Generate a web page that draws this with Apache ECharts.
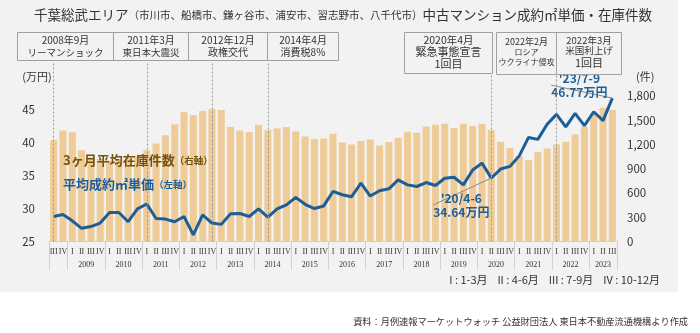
<!DOCTYPE html>
<html><head><meta charset="utf-8">
<script src="https://cdn.jsdelivr.net/npm/echarts@6/dist/echarts.min.js"></script>
<style>html,body{margin:0;padding:0;background:#fff}#c{width:700px;height:333px}</style>
</head><body><div id="c"></div>
<script>
// ---- data ----
const years = [2008,2009,2010,2011,2012,2013,2014,2015,2016,2017,2018,2019,2020,2021,2022,2023];
const quarterNames = ['I','II','III','IV'];
const firstQuarter = 2;   // 2008 III
const lastQuarter = 2;    // 2023 III
// 3ヶ月平均在庫件数 (件, right axis)
const inventory = [1253,1374,1353,1129,1040,1020,1000,1010,1030,1060,
  1129,1212,1315,1448,1603,1562,1615,1640,1626,1417,
  1372,1353,1440,1378,1398,1415,1361,1299,1266,1274,
  1332,1225,1200,1245,1262,1187,1229,1282,1357,1344,
  1423,1444,1456,1403,1456,1427,1456,1380,1233,1158,
  1055,1005,1108,1150,1200,1233,1324,1419,1585,1655,1626];
// 平均成約㎡単価 (万円, left axis)
const unitPrice = [28.79,29.1,28.14,27.0,27.27,27.8,29.4,29.4,28.0,29.95,
  30.7,28.5,28.4,28.0,28.8,26.0,29.05,27.8,27.6,29.2,
  29.25,28.8,29.95,28.7,29.95,30.55,31.7,30.65,30.0,30.4,
  32.6,32.1,31.8,33.85,31.9,32.7,33.0,34.35,33.6,33.35,
  33.95,33.5,34.6,34.75,33.6,35.85,36.9,34.64,36.0,36.4,
  38.0,40.8,40.5,42.8,44.3,42.4,44.45,42.6,44.7,43.35,46.77];
const leftTicks = [25,30,35,40,45];
const rightTicks = [0,300,600,900,1200,1500,1800];
const eventQuarters = ['2008 III','2011 I','2012 IV','2014 II','2020 II','2022 I'];
const calloutQuarters = {'2020 II': "'20/4-6\n34.64万円", '2023 III': "'23/7-9\n46.77万円"};

// ---- build categories ----
const categories = [];
years.forEach((y, yi) => {
  quarterNames.forEach((q, qi) => {
    if (yi === 0 && qi < firstQuarter) return;
    if (yi === years.length - 1 && qi > lastQuarter) return;
    categories.push(y + ' ' + q);
  });
});
// year label centers & separators in category-index space
const yearCenters = {}; const separators = [-0.5];
years.forEach(y => {
  const idx = categories.map((c, i) => c.startsWith(y + ' ') ? i : -1).filter(i => i >= 0);
  const c = (idx[0] + idx[idx.length - 1]) / 2;
  if (idx.length >= 3) yearCenters[c] = y;
  separators.push(idx[idx.length - 1] + 0.5);
});

const FONT = "'Noto Sans CJK JP', 'Noto Sans', sans-serif";
const SERIF = "'Liberation Serif', 'DejaVu Serif', serif";
const BLUE = '#1c5e98';
const BROWN = '#77510f';
const BAR = '#eecb97';

const calloutIdx = {};
Object.keys(calloutQuarters).forEach(k => calloutIdx[categories.indexOf(k)] = calloutQuarters[k]);

const lineData = unitPrice.map((v, i) => calloutIdx[i] ? {
  value: v,
  label: {show: true, formatter: calloutIdx[i], position: 'bottom', align: 'center',
    color: BLUE, fontFamily: FONT, fontWeight: 'bold', fontSize: 12, lineHeight: 14}
} : v);

// ---- annotation boxes (layout only) ----
const boxes = [
  {x:17, y:32, w:96, h:28, lines:[['2008年9月',10,40],['リーマンショック',9.5,52]]},
  {x:113, y:32, w:75, h:28, lines:[['2011年3月',10,40],['東日本大震災',9.5,52]]},
  {x:188, y:32, w:79, h:28, lines:[['2012年12月',10,40],['政権交代',10,52]]},
  {x:267, y:32, w:71, h:28, lines:[['2014年4月',10,40],['消費税8%',10,52]]},
  {x:404, y:32, w:88, h:41, lines:[['2020年4月',10.5,40],['緊急事態宣言',11,51.5],['1回目',11,64]]},
  {x:496, y:32, w:60, h:42, lines:[['2022年2月',9,41.5],['ロシア',8,51.5],['ウクライナ侵攻',8,61.5]]},
  {x:556, y:32, w:65, h:42, lines:[['2022年3月',9.5,40],['米国利上げ',9.5,50.5],['1回目',11,63]]}
];
const graphics = [{type:'rect', z:-100, shape:{x:0,y:0,width:678,height:292}, style:{fill:'#f2f2f2'}}];
boxes.forEach(b => {
  graphics.push({type:'rect', z:100, shape:{x:b.x+0.5, y:b.y+0.5, width:b.w, height:b.h},
    style:{fill:'#f2f2f2', stroke:'#a0a0a0', lineWidth:1}});
  b.lines.forEach(l => graphics.push({type:'text', z:101, style:{text:l[0], x:b.x+b.w/2+0.5, y:l[2],
    align:'center', verticalAlign:'middle', fontSize:l[1], fontFamily:FONT, fill:'#333'}}));
});
graphics.push({type:'text', z:50, style:{x:63, y:160, verticalAlign:'middle', text:'{a|3ヶ月平均在庫件数}{b|（右軸）}',
  rich:{a:{fontSize:13, fontWeight:'bold', fill:BROWN, fontFamily:FONT}, b:{fontSize:9.5, fontWeight:'bold', fill:BROWN, fontFamily:FONT}}}});
graphics.push({type:'text', z:50, style:{x:63, y:184, verticalAlign:'middle', text:'{a|平均成約㎡単価}{b|（左軸）}',
  rich:{a:{fontSize:13, fontWeight:'bold', fill:BLUE, fontFamily:FONT}, b:{fontSize:9.5, fontWeight:'bold', fill:BLUE, fontFamily:FONT}}}});
graphics.push({type:'text', z:50, style:{x:660, y:280, align:'right', verticalAlign:'middle',
  text:'I : 1-3月    II : 4-6月    III : 7-9月    IV : 10-12月', fontSize:11, fontFamily:FONT, fill:'#333'}});
graphics.push({type:'text', z:50, style:{x:688, y:322, align:'right', verticalAlign:'middle',
  text:'資料：月例速報マーケットウォッチ 公益財団法人 東日本不動産流通機構より作成', fontSize:9.2, fontFamily:FONT, fill:'#333'}});

const chart = echarts.init(document.getElementById('c'), null, {renderer:'canvas'});
chart.setOption({
  backgroundColor: '#fff',
  animation: false,
  textStyle: {fontFamily: FONT},
  title: {left: 29, top: 3, text: '{a|千葉総武エリア}{b|（市川市、船橋市、鎌ヶ谷市、浦安市、習志野市、八千代市）}{a|中古マンション成約㎡単価・在庫件数}',
    textStyle: {fontWeight: 'normal', rich: {a: {fontSize: 13.5, fontWeight: 'normal', color: '#333', fontFamily: FONT},
      b: {fontSize: 10.5, fontWeight: 'normal', color: '#333', fontFamily: FONT}}}},
  grid: {left: 49, right: 83, top: 63, bottom: 91.5, containLabel: false, outerBoundsMode: 'none'},
  xAxis: [{
    type: 'category', data: categories, position: 'bottom',
    axisLine: {show: true, lineStyle: {color: '#d0d0d0'}},
    axisTick: {show: false},
    axisLabel: {interval: 0, margin: 6, fontSize: 8, fontFamily: SERIF, color: '#333',
      formatter: v => v.split(' ')[1]},
    splitLine: {show: false}
  }, {
    type: 'value', position: 'bottom', min: -0.5, max: categories.length - 0.5,
    axisLine: {show: false},
    axisTick: {show: true, length: 28, customValues: separators, lineStyle: {color: '#d0d0d0'}},
    axisLabel: {show: true, margin: 19, fontSize: 8, fontFamily: SERIF, color: '#333',
      customValues: Object.keys(yearCenters).map(Number), formatter: v => String(yearCenters[v] || '')},
    splitLine: {show: false}
  }],
  yAxis: [{
    type: 'value', position: 'left', min: leftTicks[0], max: 52.1, interval: leftTicks[1] - leftTicks[0],
    name: '(万円)', nameLocation: 'end', nameGap: -19,
    nameTextStyle: {align: 'right', color: '#333', fontSize: 11, fontFamily: FONT, padding: [0, 2, 0, 0]},
    axisLine: {show: false}, axisTick: {show: false}, splitLine: {show: false},
    axisLabel: {margin: 14, fontSize: 11.5, color: '#333', fontFamily: FONT,
      formatter: v => leftTicks.includes(v) ? String(v) : ''}
  }, {
    type: 'value', position: 'right', min: rightTicks[0], max: 2208, interval: rightTicks[1] - rightTicks[0],
    name: '(件)', nameLocation: 'end', nameGap: -19,
    nameTextStyle: {align: 'left', color: '#333', fontSize: 11, fontFamily: FONT, padding: [0, 0, 0, 19]},
    axisLine: {show: false}, axisTick: {show: false}, splitLine: {show: false},
    axisLabel: {margin: 10, fontSize: 11.5, color: '#333', fontFamily: FONT,
      formatter: v => rightTicks.includes(v) ? v.toLocaleString('en-US') : ''}
  }],
  series: [{
    type: 'bar', xAxisIndex: 0, yAxisIndex: 1, data: inventory, barWidth: 7,
    itemStyle: {color: BAR}, silent: true,
    markLine: {silent: true, symbol: 'none', label: {show: false},
      lineStyle: {color: '#999', type: [2, 2], width: 1},
      data: eventQuarters.map(q => ({xAxis: q}))}
  }, {
    type: 'line', xAxisIndex: 0, yAxisIndex: 0, data: lineData,
    symbol: 'circle', symbolSize: 0, showSymbol: true, showAllSymbol: true,
    lineStyle: {color: BLUE, width: 3}, itemStyle: {color: BLUE},
    labelLine: {show: true, lineStyle: {color: '#888', width: 1}},
    labelLayout: p => {
      const q = categories[p.dataIndex];
      if (q === '2020 II') return {dx: -30, dy: 8};
      if (q === '2023 III') return {dx: -33, dy: -32};
      return {};
    }
  }],
  graphic: graphics
});
</script></body></html>
